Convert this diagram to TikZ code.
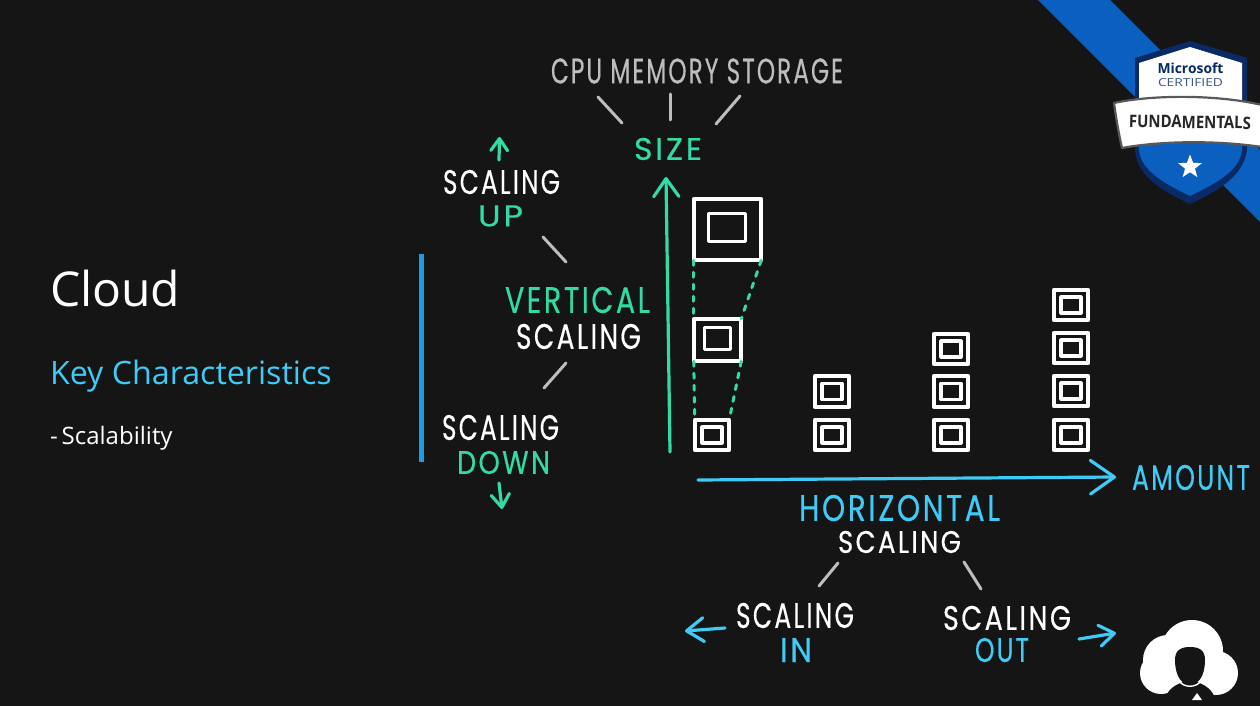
\documentclass[tikz,border=0pt]{standalone}
\usepackage{fontspec}
\usepackage{graphicx}
\usetikzlibrary{arrows.meta,shapes.geometric}
\newfontfamily\hfont[LetterSpace=9,FakeBold=0.5]{Poppins}
\newfontfamily\slide{Open Sans}
\newfontfamily\badge{Open Sans}
\definecolor{bgc}{HTML}{151515}
\definecolor{grn}{HTML}{32DAA6}
\definecolor{sky}{HTML}{3FCBF5}
\definecolor{gry}{HTML}{BDBDBD}
\definecolor{bar}{HTML}{1E9BE3}
\definecolor{ribbonblue}{HTML}{0B5FBE}
\definecolor{navy}{HTML}{0A2A66}
\newcommand{\hw}[3]{\resizebox{#1pt}{#2pt}{\hfont #3}}
\tikzset{
  hand/.style={inner sep=0pt,outer sep=0pt,anchor=center,font=\fontsize{30pt}{30pt}\selectfont},
  tick/.style={draw=gry,line width=3pt,line cap=round},
  sq/.style={draw=white,line width=3.8pt,rectangle,inner sep=0pt,outer sep=0pt,line join=round},
  sqin/.style={draw=white,line width=3.2pt,rectangle,inner sep=0pt,outer sep=0pt,line join=round},
  dashlink/.style={draw=grn,line width=3pt,line cap=round,dash pattern=on 5pt off 7pt},
  arr/.style={line width=3.2pt,line cap=round,line join=round,-{Straight Barb[length=#1pt,width=#1pt*1.4,round]}},
  slidetext/.style={inner sep=0pt,outer sep=0pt,anchor=base west},
}
\newcommand{\smallsq}[3]{%
  \node[sq,minimum width=34.5pt,minimum height=30.5pt] (#1) at (#2,#3) {};
  \node[sqin,minimum width=20pt,minimum height=16pt] (#1in) at (#2,#3) {};}
\begin{document}
\begin{tikzpicture}[x=1pt,y=-1pt]
\useasboundingbox (0,0) rectangle (1260,706);
\fill[bgc] (0,0) rectangle (1260,706);

% slide text
\node[slidetext,text=white] (cloud) at (50,306) {\slide\fontsize{48pt}{46pt}\selectfont Cloud};
\node[slidetext,text=sky] (key) at (50,384) {\slide\fontsize{32.2pt}{31pt}\selectfont Key Characteristics};
\node[slidetext,text=white] (scal) at (50,444) {\slide\fontsize{24pt}{22pt}\selectfont -\,Scalability};
\fill[bar] (419,254) rectangle (423.5,462);

% badge
\fill[ribbonblue] (1038,0) -- (1110,0) -- (1260,150) -- (1260,222) -- cycle;
\fill[navy] (1190,41) -- (1135,58) -- (1135,150) .. controls (1137,178) and (1165,192) .. (1190,204)
  .. controls (1215,192) and (1243,178) .. (1247,150) -- (1247,58) -- cycle;
\fill[white] (1190,47) -- (1139,63) -- (1139,105) -- (1242,105) -- (1242,63) -- cycle;
\fill[ribbonblue] (1139,140) -- (1139,150) .. controls (1141,172) and (1168,185) .. (1190,196)
  .. controls (1212,185) and (1240,172) .. (1242,150) -- (1242,140) -- cycle;
\fill[white,draw=gray!70!black,line width=2.2pt,line join=round] (1114,103)
  .. controls (1150,95) and (1215,94) .. (1262,105) -- (1262,147)
  .. controls (1215,140) and (1160,141) .. (1122,148)
  .. controls (1119,135) and (1116,118) .. (1114,103) -- cycle;
\node[star,star points=5,star point ratio=2.4,fill=white,inner sep=0pt,minimum size=25pt] (bstar) at (1190,167) {};
\node[hand,text=navy] (ms) at (1190.5,68) {\resizebox{66pt}{!}{\badge\bfseries Microsoft}};
\node[hand,text=navy!80!white] (cert) at (1190.5,83) {\resizebox{65pt}{8pt}{\addfontfeature{LetterSpace=10}\badge CERTIFIED}};
\node[hand,text=black!85,rotate=-1] (fund) at (1190,122) {\resizebox{122pt}{12.5pt}{\badge\bfseries FUNDAMENTALS}};

% handwritten labels
\node[hand,text=gry] (cpu) at (697,71) {\hw{292}{25}{CPU MEMORY STORAGE}};
\node[hand,text=grn] (size) at (668,149) {\hw{68}{22}{SIZE}};
\node[hand,text=white] (sup) at (501.5,182) {\hw{117}{24}{SCALING}};
\node[hand,text=grn] (up) at (500.5,216) {\hw{45}{21}{UP}};
\node[hand,text=grn] (vert) at (577.5,300) {\hw{145}{26}{VERTICAL}};
\node[hand,text=white] (vsc) at (578.5,336.5) {\hw{125}{25}{SCALING}};
\node[hand,text=white] (sdn) at (500.5,427.5) {\hw{117}{25}{SCALING}};
\node[hand,text=grn] (down) at (503.5,462.5) {\hw{93}{23}{DOWN}};
\node[hand,text=sky] (horiz) at (899.5,508) {\hw{201}{26}{HORIZONTAL}};
\node[hand,text=white] (hsc) at (899.5,542) {\hw{123}{22}{SCALING}};
\node[hand,text=white] (sin) at (795,615.5) {\hw{118}{25}{SCALING}};
\node[hand,text=sky] (in) at (796,650) {\hw{32}{24}{IN}};
\node[hand,text=white] (sout) at (1007,618) {\hw{128}{24}{SCALING}};
\node[hand,text=sky] (out) at (1002,650) {\hw{54}{24}{OUT}};
\node[hand,text=sky] (amount) at (1191,477.5) {\hw{118}{25}{AMOUNT}};

% squares
\node[sq,minimum width=67.5pt,minimum height=61.5pt] (big) at (727.5,229.5) {};
\node[sqin,minimum width=37pt,minimum height=28pt] (bigin) at (727,227.5) {};
\node[sq,minimum width=47.5pt,minimum height=42.5pt] (mid) at (717.5,340) {};
\node[sqin,minimum width=26pt,minimum height=22pt] (midin) at (717.5,338.5) {};
\smallsq{a1}{712}{435}
\smallsq{b1}{832}{435}
\smallsq{b2}{832}{391.5}
\smallsq{c1}{951}{435}
\smallsq{c2}{951}{391.5}
\smallsq{c3}{951}{349}
\smallsq{d1}{1071}{435}
\smallsq{d2}{1071}{391}
\smallsq{d3}{1071}{348}
\smallsq{d4}{1071}{305}

\draw[dashlink] (big.south west) -- (mid.north west);
\draw[dashlink] (big.south east) -- (mid.north east);
\draw[dashlink] (mid.south west) -- (a1.north west);
\draw[dashlink] (mid.south east) -- (a1.north east);

% ticks
\coordinate (t1a) at (598,97); \coordinate (t1b) at (622,123);
\coordinate (t2a) at (670,94); \coordinate (t2b) at (670,120);
\coordinate (t3a) at (740,96); \coordinate (t3b) at (716,124);
\coordinate (t4a) at (543,237); \coordinate (t4b) at (566,262);
\coordinate (t5a) at (566,363); \coordinate (t5b) at (544,388);
\coordinate (t6a) at (838,563); \coordinate (t6b) at (819,586);
\coordinate (t7a) at (964,562); \coordinate (t7b) at (981,589);
\foreach \n in {1,...,7} \draw[tick] (t\n a) -- (t\n b);

% arrows
\coordinate (axv0) at (670,452); \coordinate (axv1) at (666,177);
\coordinate (axh0) at (698,480); \coordinate (axh1) at (1116,477);
\coordinate (upa) at (499,160); \coordinate (upb) at (499.5,137);
\coordinate (dna) at (499,483); \coordinate (dnb) at (502,509);
\coordinate (ina) at (725,628); \coordinate (inb) at (685,631);
\coordinate (outa) at (1079,639); \coordinate (outb) at (1116,633);
\draw[arr=18,grn] (axv0) -- (axv1);
\draw[arr=24,sky] (axh0) -- (axh1);
\draw[arr=12,grn] (upa) -- (upb);
\draw[arr=13,grn] (dna) -- (dnb);
\draw[arr=17,sky] (ina) -- (inb);
\draw[arr=15,sky] (outa) -- (outb);

% cloud avatar
\fill[white] (1192,651) circle (31pt);
\fill[white] (1168,660) circle (25pt);
\fill[white] (1161,673) circle (21pt);
\fill[white] (1216,673) circle (22pt);
\fill[white] (1190,680) circle (14pt);
\fill[bgc] (1163,706) .. controls (1165,692) and (1172,686) .. (1183,682) -- (1197,682)
  .. controls (1208,686) and (1215,692) .. (1217,706) -- cycle;
\draw[white,line width=1.4pt] (1179,681) .. controls (1184,688) and (1196,688) .. (1201,681);
\fill[bgc] (1175,660) .. controls (1175,650) and (1181,647) .. (1190,647)
  .. controls (1199,647) and (1205,650) .. (1205,660)
  .. controls (1205,670) and (1202,684) .. (1190,685)
  .. controls (1178,684) and (1175,670) .. (1175,660) -- cycle;
\fill[white] (1197,693) -- (1202,700) -- (1192,700) -- cycle;
\end{tikzpicture}
\end{document}
